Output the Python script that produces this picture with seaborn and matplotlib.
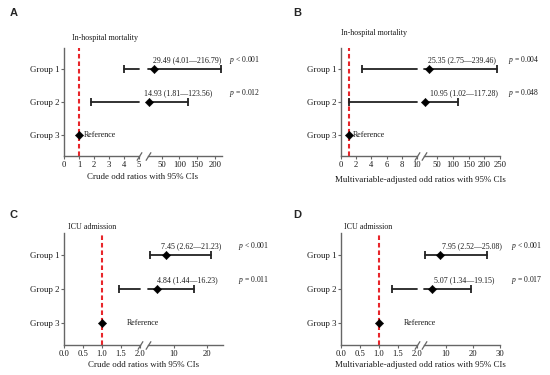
import numpy as np
import pandas as pd
import seaborn as sns
import matplotlib.pyplot as plt
from matplotlib.transforms import blended_transform_factory

groups = ["Group 1", "Group 2", "Group 3"]

# A - crude OR, in-hospital mortality
a_or = [29.49, 14.93, 1.0]
a_lo = [4.01, 1.81, np.nan]
a_hi = [216.79, 123.56, np.nan]
a_ci = ["29.49 (4.01\u2014216.79)", "14.93 (1.81\u2014123.56)"]
a_p = ["$p$ < 0.001", "$p$ = 0.012"]

# B - adjusted OR, in-hospital mortality
b_or = [25.35, 10.95, 1.0]
b_lo = [2.75, 1.02, np.nan]
b_hi = [239.46, 117.28, np.nan]
b_ci = ["25.35 (2.75\u2014239.46)", "10.95 (1.02\u2014117.28)"]
b_p = ["$p$ = 0.004", "$p$ = 0.048"]

# C - crude OR, ICU admission
c_or = [7.45, 4.84, 1.0]
c_lo = [2.62, 1.44, np.nan]
c_hi = [21.23, 16.23, np.nan]
c_ci = ["7.45 (2.62\u201421.23)", "4.84 (1.44\u201416.23)"]
c_p = ["$p$ < 0.001", "$p$ = 0.011"]

# D - adjusted OR, ICU admission
d_or = [7.95, 5.07, 1.0]
d_lo = [2.52, 1.34, np.nan]
d_hi = [25.08, 19.15, np.nan]
d_ci = ["7.95 (2.52\u201425.08)", "5.07 (1.34\u201419.15)"]
d_p = ["$p$ < 0.001", "$p$ = 0.017"]

sns.set_style("ticks")
plt.rcParams["font.family"] = ["Liberation Serif", "DejaVu Serif"]
plt.rcParams["mathtext.fontset"] = "custom"
plt.rcParams["mathtext.it"] = "Liberation Serif:italic"
plt.rcParams["mathtext.rm"] = "Liberation Serif"
plt.rcParams["font.size"] = 6

W, H = 550, 375
fig = plt.figure(figsize=(5.5, 3.75), dpi=100)

SPINE = "#666666"
LINE = "#222222"
TXT = "#1a1a1a"
RED = "#e8262b"


def px(x0, x1, ytop, ybot):
    return [x0 / W, 1 - ybot / H, (x1 - x0) / W, (ybot - ytop) / H]


def draw_segment(ax, df, xmin, xmax):
    for _, r in df.iterrows():
        if np.isnan(r["lo"]):
            continue
        a, b = max(r["lo"], xmin), min(r["hi"], xmax)
        if a < b:
            ax.plot([a, b], [r["y"], r["y"]], color=LINE, lw=1.3, clip_on=False)
        for e in (r["lo"], r["hi"]):
            if xmin <= e <= xmax:
                ax.plot([e], [r["y"]], marker="|", ms=6, mew=1.3, color=LINE, clip_on=False)
    pts = df[(df["or"] >= xmin) & (df["or"] <= xmax)]
    sns.scatterplot(data=pts, x="or", y="y", marker="D", s=18, color="black",
                    edgecolor="black", ax=ax, legend=False, zorder=5, clip_on=False)


def style_ax(ax):
    for s in ax.spines.values():
        s.set_color(SPINE)
        s.set_linewidth(1.0)
    ax.tick_params(colors=SPINE, labelcolor=TXT, length=2.5, width=0.8, pad=1.2)
    ax.tick_params(axis="x", labelsize=6.2)
    ax.tick_params(axis="y", labelsize=6.4, pad=0.6)
    ax.set_xlabel("")
    ax.set_ylabel("")
    ax.patch.set_visible(False)


panels = [
    dict(letter="A", ors=a_or, lo=a_lo, hi=a_hi, ci=a_ci, p=a_p,
         title="In-hospital mortality", xlabel="Crude odd ratios with 95% CIs",
         left=(64, 139), right=(148, 222), ys=(48, 156),
         lx=(0, 5), rx=(12, 220),
         lt=[0, 1, 2, 3, 4, 5], ltl=None, rt=[50, 100, 150, 200],
         ci_x=[0.53, 0.405], p_x=1.095, ref_x=1.33, title_x=0.107, title_dy=10,
         letter_pos=(10, 13), xlabel_y=177),
    dict(letter="B", ors=b_or, lo=b_lo, hi=b_hi, ci=b_ci, p=b_p,
         title="In-hospital mortality", xlabel="Multivariable-adjusted odd ratios with 95% CIs",
         left=(341, 417), right=(424, 500), ys=(48, 156),
         lx=(0, 10), rx=(8, 250),
         lt=[0, 2, 4, 6, 8, 10], ltl=None, rt=[50, 100, 150, 200, 250],
         ci_x=[0.5, 0.53], p_x=1.105, ref_x=1.58, title_x=0.0, title_dy=15,
         letter_pos=(293, 13), xlabel_y=180),
    dict(letter="C", ors=c_or, lo=c_lo, hi=c_hi, ci=c_ci, p=c_p,
         title="ICU admission", xlabel="Crude odd ratios with 95% CIs",
         left=(64, 140), right=(148, 223), ys=(233, 345),
         lx=(0, 2), rx=(2, 25),
         lt=[0, 0.5, 1.0, 1.5, 2.0], ltl=["0.0", "0.5", "1.0", "1.5", "2.0"], rt=[10, 20],
         ci_x=[0.58, 0.52], p_x=1.195, ref_x=1.64, title_x=0.05, title_dy=6,
         letter_pos=(10, 215), xlabel_y=365),
    dict(letter="D", ors=d_or, lo=d_lo, hi=d_hi, ci=d_ci, p=d_p,
         title="ICU admission", xlabel="Multivariable-adjusted odd ratios with 95% CIs",
         left=(341, 417), right=(424, 500), ys=(233, 345),
         lx=(0, 2), rx=(2, 30),
         lt=[0, 0.5, 1.0, 1.5, 2.0], ltl=["0.0", "0.5", "1.0", "1.5", "2.0"], rt=[10, 20, 30],
         ci_x=[0.63, 0.53], p_x=1.14, ref_x=1.64, title_x=0.04, title_dy=6,
         letter_pos=(293, 215), xlabel_y=365),
]

for pn in panels:
    df = pd.DataFrame({"group": groups, "y": [1, 2, 3], "or": pn["ors"],
                       "lo": pn["lo"], "hi": pn["hi"]})
    ytop, ybot = pn["ys"]
    axl = fig.add_axes(px(*pn["left"], ytop, ybot))
    axr = fig.add_axes(px(*pn["right"], ytop, ybot))
    ylim = (3.65, 0.35)

    # left segment
    axl.axvline(1, color=RED, lw=1.5, ls=(0, (2.2, 1.4)), zorder=1)
    draw_segment(axl, df, *pn["lx"])
    axl.set_xlim(*pn["lx"])
    axl.set_ylim(*ylim)
    axl.set_yticks([1, 2, 3], groups)
    if pn["ltl"]:
        axl.set_xticks(pn["lt"], pn["ltl"])
    else:
        axl.set_xticks(pn["lt"])
    sns.despine(ax=axl, top=True, right=True)
    style_ax(axl)
    axl.text(pn["ref_x"], 3, "Reference", va="center", ha="left", fontsize=5.8,
             color=TXT, clip_on=False)
    axl.text(pn["title_x"], 1 + pn["title_dy"] / (ybot - ytop), pn["title"],
             transform=axl.transAxes, ha="left", va="center", fontsize=5.8, color=TXT)

    # right segment
    draw_segment(axr, df, *pn["rx"])
    axr.set_xlim(*pn["rx"])
    axr.set_ylim(*ylim)
    axr.set_xticks(pn["rt"])
    axr.set_yticks([])
    sns.despine(ax=axr, top=True, right=True, left=True)
    style_ax(axr)
    tr = blended_transform_factory(axr.transAxes, axr.transData)
    for i in range(2):
        axr.text(pn["ci_x"][i], i + 1 - 0.27, pn["ci"][i], transform=tr,
                 ha="center", va="center", fontsize=5.7, color=TXT, clip_on=False)
        axr.text(pn["p_x"], i + 1 - 0.27, pn["p"][i], transform=tr,
                 ha="left", va="center", fontsize=5.5, color=TXT, clip_on=False)

    # break marks
    brk = dict(marker=[(-1, -1.6), (1, 1.6)], markersize=6, linestyle="none",
               color=SPINE, mec=SPINE, mew=0.9, clip_on=False)
    axl.plot([1], [0], transform=axl.transAxes, **brk)
    axr.plot([0], [0], transform=axr.transAxes, **brk)

    # x label centred under both segments
    xc = (pn["left"][0] + pn["right"][1]) / 2
    fig.text(xc / W, 1 - pn["xlabel_y"] / H, pn["xlabel"], ha="center", va="center",
             fontsize=6.4, color=TXT)
    lx, ly = pn["letter_pos"]
    fig.text(lx / W, 1 - ly / H, pn["letter"], ha="left", va="center", fontsize=8,
             fontweight="bold", family="Liberation Sans")

fig.savefig("out.png", dpi=100)
